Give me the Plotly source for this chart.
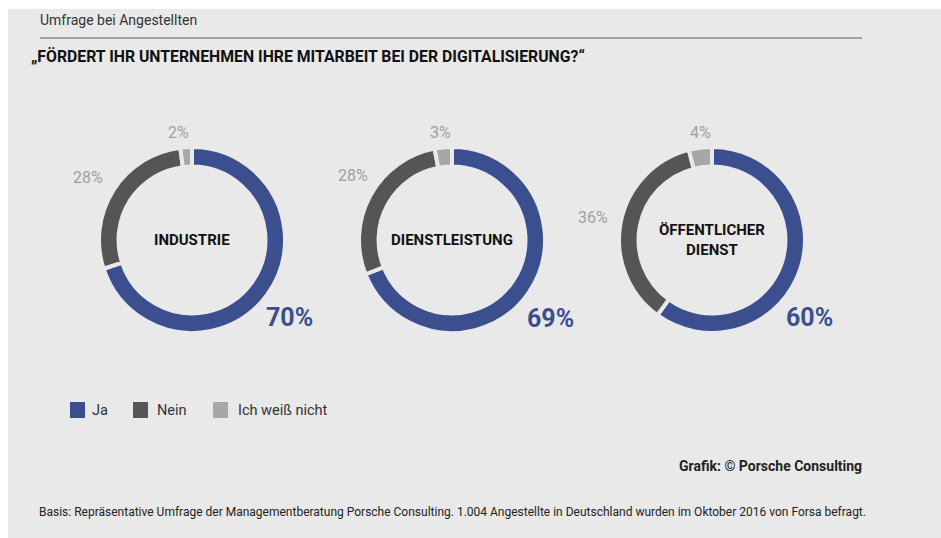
import plotly.graph_objects as go

# ---- data ----
categories = ["INDUSTRIE", "DIENSTLEISTUNG", "ÖFFENTLICHER<br>DIENST"]
answers = ["Ja", "Nein", "Ich weiß nicht"]
ja = [70, 69, 60]
nein = [28, 28, 36]
weiss_nicht = [2, 3, 4]

# ---- style ----
W, H = 941, 538
BG = "#e9e9e9"
COLORS = ["#3b4f8f", "#555555", "#a7a7a7"]
FONT = "Roboto, Liberation Sans, sans-serif"

centers_px = [(192, 240), (452, 240), (712, 240)]
radius_px = 93
# label offsets (px relative to centre): Ja, Nein, weiß nicht
label_pos = [
    [(97, 77), (-104, -63), (-14, -107)],
    [(98, 78), (-99, -65), (-12, -108)],
    [(97, 77), (-119, -23), (-12, -107)],
]
# legend layout (px): square left edges, text left edges, vertical centre
legend_sq_x = [70, 133, 213]
legend_txt_x = [90, 155, 236]
legend_y = 410

def px(x):
    return x / W

def py(y):
    return 1 - y / H

fig = go.Figure()
for i, cat in enumerate(categories):
    cx, cy = centers_px[i]
    fig.add_trace(go.Pie(
        labels=answers,
        values=[ja[i], nein[i], weiss_nicht[i]],
        hole=0.79,
        sort=False,
        direction="clockwise",
        rotation=0,
        textinfo="none",
        hoverinfo="label+percent",
        marker=dict(colors=COLORS, line=dict(color=BG, width=4)),
        domain=dict(x=[px(cx - radius_px), px(cx + radius_px)],
                    y=[py(cy + radius_px), py(cy - radius_px)]),
        showlegend=False,
    ))

annotations = []
for i, cat in enumerate(categories):
    cx, cy = centers_px[i]
    annotations.append(dict(
        x=px(cx), y=py(cy), xref="paper", yref="paper", text="<b>%s</b>" % cat,
        showarrow=False, font=dict(family=FONT, size=15, color="#111111"),
        xanchor="center", yanchor="middle", align="center"))
    vals = [ja[i], nein[i], weiss_nicht[i]]
    for j, v in enumerate(vals):
        dx, dy = label_pos[i][j]
        if j == 0:
            txt = "<b>%d%%</b>" % v
            f = dict(family=FONT, size=25, color=COLORS[0])
        else:
            txt = "%d%%" % v
            f = dict(family=FONT, size=16, color="#a0a0a0")
        annotations.append(dict(
            x=px(cx + dx), y=py(cy + dy), xref="paper", yref="paper",
            text=txt, showarrow=False, font=f,
            xanchor="center", yanchor="middle"))

annotations += [
    dict(x=px(38), y=py(20), xref="paper", yref="paper", text="Umfrage bei Angestellten",
         showarrow=False, xanchor="left", yanchor="middle",
         font=dict(family=FONT, size=14, color="#333333")),
    dict(x=px(29), y=py(57), xref="paper", yref="paper",
         text="<b>„FÖRDERT IHR UNTERNEHMEN IHRE MITARBEIT BEI DER DIGITALISIERUNG?“</b>",
         showarrow=False, xanchor="left", yanchor="middle",
         font=dict(family=FONT, size=15.8, color="#111111")),
    dict(x=px(864), y=py(466), xref="paper", yref="paper",
         text="<b>Grafik: © Porsche Consulting</b>",
         showarrow=False, xanchor="right", yanchor="middle",
         font=dict(family=FONT, size=14, color="#222222")),
    dict(x=px(37), y=py(512), xref="paper", yref="paper",
         text="Basis: Repräsentative Umfrage der Managementberatung Porsche Consulting. "
              "1.004 Angestellte in Deutschland wurden im Oktober 2016 von Forsa befragt.",
         showarrow=False, xanchor="left", yanchor="middle",
         font=dict(family=FONT, size=12, color="#222222")),
]

shapes = [
    # white page border at top and left
    dict(type="rect", xref="paper", yref="paper", x0=0, x1=1, y0=py(9), y1=1,
         fillcolor="white", line=dict(width=0), layer="below"),
    dict(type="rect", xref="paper", yref="paper", x0=0, x1=px(8), y0=0, y1=1,
         fillcolor="white", line=dict(width=0), layer="below"),
    dict(type="line", xref="paper", yref="paper", x0=px(40), x1=px(862),
         y0=py(38), y1=py(38), line=dict(color="#8a8a8a", width=1.5)),
]

# legend (squares + labels)
for k, name in enumerate(answers):
    shapes.append(dict(type="rect", xref="paper", yref="paper",
                       x0=px(legend_sq_x[k]), x1=px(legend_sq_x[k] + 15),
                       y0=py(legend_y + 8), y1=py(legend_y - 8),
                       fillcolor=COLORS[k], line=dict(width=0)))
    annotations.append(dict(x=px(legend_txt_x[k]), y=py(legend_y), xref="paper", yref="paper",
                            text=name, showarrow=False, xanchor="left", yanchor="middle",
                            font=dict(family=FONT, size=14.5, color="#333333")))

fig.update_layout(
    width=W, height=H,
    margin=dict(l=0, r=0, t=0, b=0),
    paper_bgcolor=BG,
    plot_bgcolor=BG,
    annotations=annotations,
    shapes=shapes,
    showlegend=False,
)

fig.write_html("out.html", config={"displayModeBar": False},
               post_script="document.body.style.margin='0';document.body.style.overflow='hidden';")
